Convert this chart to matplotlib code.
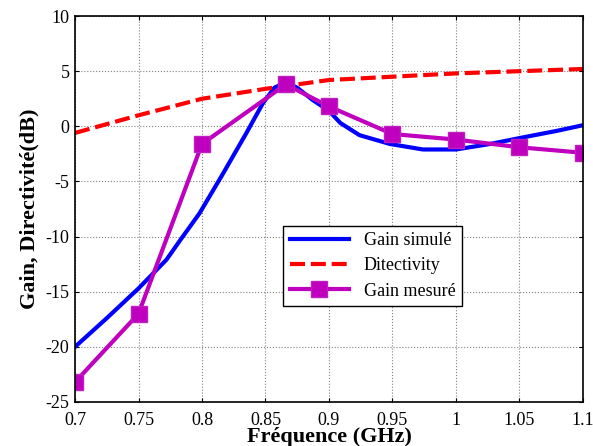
import matplotlib
matplotlib.use("Agg")
import matplotlib.pyplot as plt

# Gain simulé (courbe continue)
freq_sim = [0.70, 0.725, 0.75, 0.772, 0.783, 0.798, 0.8165, 0.835, 0.848, 0.857,
            0.866, 0.875, 0.887, 0.90, 0.909, 0.924, 0.948, 0.974, 1.00, 1.027,
            1.053, 1.08, 1.10]
gain_sim = [-20.0, -17.4, -14.7, -12.1, -10.3, -7.9, -4.3, -0.6, 2.1, 3.5,
            4.0, 3.5, 2.4, 1.4, 0.3, -0.8, -1.6, -2.1, -2.1, -1.6,
            -1.0, -0.4, 0.1]

# Directivité
freq_dir = [0.70, 0.75, 0.80, 0.85, 0.90, 0.95, 1.00, 1.05, 1.10]
directivity = [-0.6, 1.0, 2.5, 3.4, 4.2, 4.5, 4.8, 5.0, 5.2]

# Gain mesuré
freq_mes = [0.70, 0.75, 0.80, 0.866, 0.90, 0.95, 1.00, 1.05, 1.10]
gain_mes = [-23.2, -17.0, -1.6, 3.8, 1.8, -0.7, -1.2, -1.9, -2.4]

xticks = [0.7, 0.75, 0.8, 0.85, 0.9, 0.95, 1, 1.05, 1.1]
xtick_labels = ["0.7", "0.75", "0.8", "0.85", "0.9", "0.95", "1", "1.05", "1.1"]
yticks = [-25, -20, -15, -10, -5, 0, 5, 10]

plt.rcParams["font.family"] = ["Liberation Serif", "DejaVu Serif"]
plt.rcParams["axes.unicode_minus"] = False

fig = plt.figure(figsize=(5.93, 4.46), dpi=100)
ax = fig.add_axes([0.1265, 0.0987, 0.8565, 0.8653])

ax.plot(freq_sim, gain_sim, color="#0000ff", lw=3.0, label="Gain simulé")
ax.plot(freq_dir, directivity, color="#ff0000", lw=3.0, ls=(0, (3.6, 1.4)),
        label="Ditectivity")
ax.plot(freq_mes, gain_mes, color="#bf00bf", lw=3.0, marker="s", ms=11,
        mfc="#bf00bf", mec="#c020c0", label="Gain mesuré")

ax.set_xlim(0.7, 1.1)
ax.set_ylim(-25, 10)
ax.set_xticks(xticks)
ax.set_xticklabels(xtick_labels)
ax.set_yticks(yticks)
ax.tick_params(direction="in", length=3, labelsize=13, top=True, right=True)
ax.tick_params(axis="x", pad=7)
ax.tick_params(axis="y", pad=4)
ax.grid(True, color="#808080", ls=":", lw=0.8)
for s in ax.spines.values():
    s.set_linewidth(1.2)

ax.set_xlabel("Fréquence (GHz)", fontsize=16, fontweight="bold", labelpad=-1)
ax.set_ylabel("Gain, Directivité(dB)", fontsize=16, fontweight="bold", labelpad=4)

leg = ax.legend(loc="lower left", bbox_to_anchor=(0.41, 0.249), fontsize=13,
                fancybox=False, framealpha=1, edgecolor="black",
                handlelength=3.3, borderpad=0.35, labelspacing=0.45,
                borderaxespad=0)
leg.get_frame().set_linewidth(1.0)

fig.savefig("out.png", dpi=100)
